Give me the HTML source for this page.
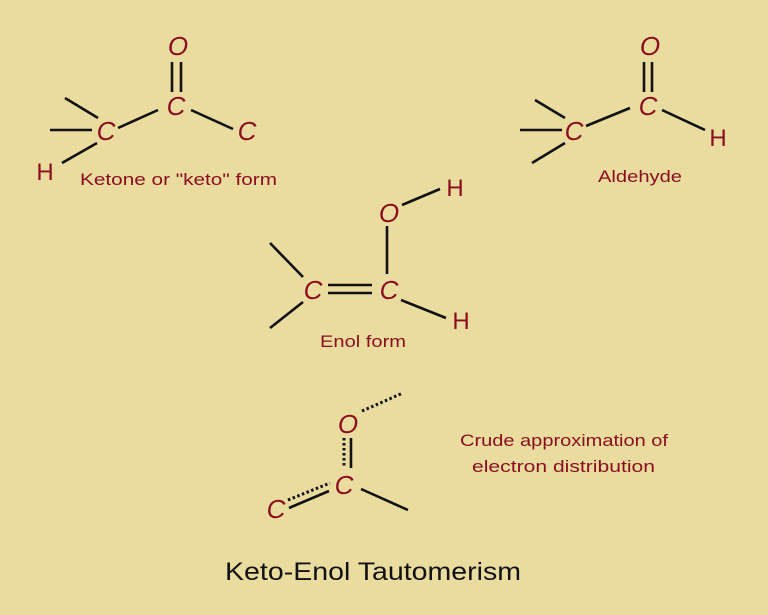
<!DOCTYPE html>
<html><head><meta charset="utf-8"><style>
html,body{margin:0;padding:0;background:#e9dc9e;}
svg{display:block}
.a{font-family:"Liberation Sans",sans-serif;font-style:italic;fill:#8b0d1f;font-size:26px;text-anchor:middle}
.h{font-family:"Liberation Sans",sans-serif;fill:#8b0d1f;font-size:24px;text-anchor:middle}
.l{font-family:"Liberation Sans",sans-serif;fill:#8b0d1f;font-size:17px}
line{stroke:#111;stroke-width:2.6}
.d{stroke-dasharray:2.5 2.5;stroke-width:3}
</style></head><body>
<svg width="768" height="615" viewBox="0 0 768 615">
<rect width="768" height="615" fill="#e9dc9e"/>
<!-- Ketone -->
<text class="a" x="178" y="55">O</text>
<line x1="172" y1="62" x2="172" y2="92"/><line x1="181" y1="62" x2="181" y2="92"/>
<text class="a" x="176" y="115">C</text>
<text class="a" x="106" y="140">C</text>
<text class="a" x="247" y="140">C</text>
<text class="h" x="45" y="180">H</text>
<line x1="65" y1="98" x2="98" y2="118"/>
<line x1="50" y1="130" x2="92" y2="130"/>
<line x1="62" y1="163" x2="97" y2="143"/>
<line x1="118" y1="128" x2="158" y2="110"/>
<line x1="191" y1="110" x2="233" y2="129"/>
<text class="l" x="80" y="185" textLength="197" lengthAdjust="spacingAndGlyphs">Ketone or "keto" form</text>
<!-- Aldehyde -->
<text class="a" x="650" y="55">O</text>
<line x1="644" y1="62" x2="644" y2="92"/><line x1="652" y1="62" x2="652" y2="92"/>
<text class="a" x="648" y="115">C</text>
<text class="a" x="574" y="140">C</text>
<text class="h" x="718" y="146">H</text>
<line x1="535" y1="100" x2="565" y2="118"/>
<line x1="520" y1="130" x2="562" y2="130"/>
<line x1="532" y1="163" x2="565" y2="143"/>
<line x1="586" y1="126" x2="630" y2="108"/>
<line x1="662" y1="110" x2="705" y2="130"/>
<text class="l" x="598" y="182" textLength="84" lengthAdjust="spacingAndGlyphs">Aldehyde</text>
<!-- Enol -->
<text class="a" x="389" y="222">O</text>
<text class="h" x="455" y="196">H</text>
<line x1="402" y1="205" x2="440" y2="189"/>
<line x1="387" y1="226" x2="387" y2="274"/>
<text class="a" x="389" y="299">C</text>
<text class="a" x="313" y="299">C</text>
<line x1="328" y1="285" x2="372" y2="285"/><line x1="328" y1="293" x2="372" y2="293"/>
<line x1="270" y1="243" x2="303" y2="277"/>
<line x1="270" y1="328" x2="303" y2="302"/>
<line x1="401" y1="300" x2="446" y2="318"/>
<text class="h" x="461" y="329">H</text>
<text class="l" x="320" y="347" textLength="86" lengthAdjust="spacingAndGlyphs">Enol form</text>
<!-- Crude -->
<text class="a" x="348" y="433">O</text>
<line class="d" x1="362" y1="411" x2="403" y2="393"/>
<line class="d" x1="344" y1="438" x2="344" y2="468"/>
<line x1="351" y1="438" x2="351" y2="468"/>
<text class="a" x="344" y="494">C</text>
<text class="a" x="276" y="518">C</text>
<line class="d" x1="288" y1="500" x2="330" y2="483"/>
<line x1="289" y1="508" x2="329" y2="491"/>
<line x1="361" y1="489" x2="408" y2="510"/>
<text class="l" x="460" y="446" textLength="208" lengthAdjust="spacingAndGlyphs">Crude approximation of</text>
<text class="l" x="472" y="472" textLength="183" lengthAdjust="spacingAndGlyphs">electron distribution</text>
<text x="225" y="580" textLength="296" lengthAdjust="spacingAndGlyphs" style="font-family:'Liberation Sans',sans-serif;font-size:25px;fill:#111">Keto-Enol Tautomerism</text>
</svg>
</body></html>
